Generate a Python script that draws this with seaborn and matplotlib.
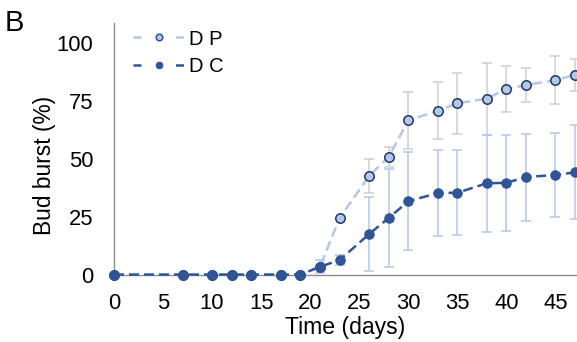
import numpy as np
import seaborn as sns
import matplotlib.pyplot as plt

# values
days = np.array([0, 7, 10, 12, 14, 17, 19, 21, 23, 26, 28, 30, 33, 35, 38, 40, 42, 45, 47])
dp_mean = np.array([0, 0, 0, 0, 0, 0, 0, 3.4, 24.5, 42.6, 50.9, 66.7, 70.9, 74.1, 76.1, 80.3, 82.0, 84.1, 86.4])
dp_err = np.array([0, 0, 0, 0, 0, 0, 0, 0, 0, 7.4, 4.5, 12.3, 12.2, 13.2, 15.6, 9.8, 7.5, 10.3, 7.0])
dc_mean = np.array([0, 0, 0, 0, 0, 0, 0, 3.4, 6.3, 17.5, 24.5, 31.7, 35.3, 35.4, 39.5, 39.7, 42.2, 43.1, 44.2])
dc_err = np.array([0, 0, 0, 0, 0, 0, 0, 2.8, 2.3, 16.1, 21.0, 21.2, 18.6, 18.3, 21.0, 20.7, 18.8, 18.0, 20.3])

light = '#b4c7e7'
dark = '#2f5597'
navy = '#1f3864'
grey = '#d0cece'

sns.set_style('white')
plt.rcParams['font.family'] = ['Liberation Sans', 'DejaVu Sans']
plt.rcParams['text.color'] = 'black'
plt.rcParams['axes.labelcolor'] = 'black'
plt.rcParams['xtick.color'] = 'black'
plt.rcParams['ytick.color'] = 'black'

fig = plt.figure(figsize=(5.77, 3.42), dpi=100)
ax = fig.add_axes([0.1976, 0.197, 0.8024, 0.735])

# error bars first so the lines sit on top
m = dp_err > 0
ax.errorbar(days[m], dp_mean[m], yerr=dp_err[m], fmt='none', ecolor=grey,
            elinewidth=1.1, capsize=3.6, capthick=1.1, zorder=1)
m = dc_err > 0
ax.errorbar(days[m], dc_mean[m], yerr=dc_err[m], fmt='none', ecolor=light,
            elinewidth=1.1, capsize=3.6, capthick=1.1, zorder=1.5)

sns.lineplot(x=days, y=dp_mean, ax=ax, color=light, linewidth=1.8,
             linestyle=(0, (4, 2)), marker='o', markersize=6.8,
             markerfacecolor=light, markeredgecolor=navy, markeredgewidth=1.1,
             label='D P', clip_on=False, zorder=3)
sns.lineplot(x=days, y=dc_mean, ax=ax, color=dark, linewidth=1.8,
             linestyle=(0, (4, 2)), marker='o', markersize=6.8,
             markerfacecolor=dark, markeredgecolor=dark,
             label='D C', clip_on=False, zorder=4)

ax.set_xlim(0, 47.2)
ax.set_ylim(0, 108.7)
ax.set_xticks(np.arange(0, 50, 5))
ax.set_yticks([0, 25, 50, 75, 100])
ax.tick_params(length=0, labelsize=15.8)
ax.tick_params(axis='x', pad=13)
ax.tick_params(axis='y', pad=15)

for s in ['top', 'right']:
    ax.spines[s].set_visible(False)
for s in ['left', 'bottom']:
    ax.spines[s].set_color('#8c8c8c')
    ax.spines[s].set_linewidth(1)

ax.set_xlabel('Time (days)', fontsize=16.6, labelpad=2)
ax.set_ylabel('Bud burst (%)', fontsize=16.4)
ax.yaxis.set_label_coords(-0.126, 0.436)

leg = ax.legend(loc='upper left', bbox_to_anchor=(0.04, 0.975), frameon=False,
                fontsize=14.5, handlelength=2.6, handletextpad=0.2,
                labelspacing=0.4, borderpad=0, borderaxespad=0, markerscale=0.7)
leg.legend_handles[0].set_markeredgecolor(dark)
for h in leg.legend_handles:
    h.set_linestyle((0, (3.2, 13.8)))

fig.text(0.0087, 0.933, 'B', fontsize=21, va='center')

plt.savefig('out.png', dpi=100)
plt.close()
